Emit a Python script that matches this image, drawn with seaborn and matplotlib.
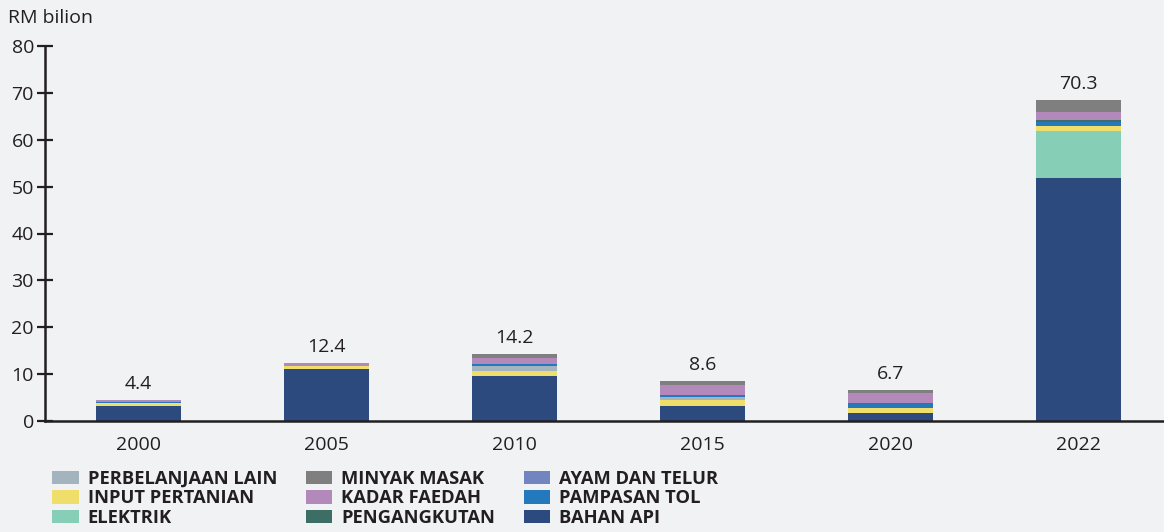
import numpy as np
import pandas as pd
import seaborn as sns
import matplotlib.pyplot as plt
from matplotlib.patches import Patch

sns.set_theme(style="white")
plt.rcParams['font.family'] = ['Open Sans', 'DejaVu Sans']

years = ['2000', '2005', '2010', '2015', '2020', '2022']
totals = [4.4, 12.4, 14.2, 8.6, 6.7, 70.3]

# stacked from bottom to top
bahan_api = [3.2, 11.1, 9.7, 3.3, 1.7, 51.8]
elektrik = [0, 0, 0, 0, 0, 10.0]
input_pertanian = [0.7, 0.6, 1.0, 1.2, 1.0, 1.1]
perbelanjaan_lain = [0, 0, 1.1, 0.6, 0, 0]
pampasan_tol = [0.1, 0, 0.4, 0.4, 1.2, 0.9]
pengangkutan = [0, 0, 0, 0, 0, 0.4]
ayam_dan_telur = [0, 0, 0, 0, 0, 0]
kadar_faedah = [0.4, 0.7, 1.2, 2.1, 2.1, 1.7]
minyak_masak = [0, 0, 0.8, 1.0, 0.7, 2.6]

series = [
    ('BAHAN API', bahan_api, '#2d4a7e'),
    ('ELEKTRIK', elektrik, '#86cfb6'),
    ('INPUT PERTANIAN', input_pertanian, '#f0de6a'),
    ('PERBELANJAAN LAIN', perbelanjaan_lain, '#a3b4bf'),
    ('PAMPASAN TOL', pampasan_tol, '#2478bc'),
    ('PENGANGKUTAN', pengangkutan, '#3d6e66'),
    ('AYAM DAN TELUR', ayam_dan_telur, '#7285c0'),
    ('KADAR FAEDAH', kadar_faedah, '#b389bb'),
    ('MINYAK MASAK', minyak_masak, '#7f7f80'),
]
colors = {name: c for name, _, c in series}

df = pd.DataFrame({name: vals for name, vals, _ in series}, index=years)
cum = df.cumsum(axis=1)

bg = '#f1f2f4'
ink = '#231f20'
fs = 14
fig = plt.figure(figsize=(11.64, 5.32), dpi=100, facecolor=bg)
ax = fig.add_axes([45 / 1164, 1 - 421 / 532, 1 - 45 / 1164, 375 / 532])
ax.set_facecolor(bg)

# draw cumulative bars from the top of the stack down
for name, _, c in reversed(series):
    sns.barplot(x=years, y=cum[name].values, color=c, width=0.452,
                saturation=1, errorbar=None, ax=ax, linewidth=0)

ax.bar_label(ax.containers[0], labels=[f'{t:.1f}' for t in totals],
             padding=5, fontsize=fs, color=ink)

ax.set_ylim(0, 80)
ax.set_xlim(-0.497, 5.455)
ax.set_yticks(range(0, 81, 10))
sns.despine(ax=ax, top=True, right=True)
for s in ['left', 'bottom']:
    ax.spines[s].set_color(ink)
    ax.spines[s].set_linewidth(1.8)
ax.tick_params(axis='y', direction='inout', length=12, width=1.6,
               color=ink, labelsize=fs, labelcolor=ink, pad=2, left=True)
ax.tick_params(axis='x', length=0, labelsize=fs, labelcolor=ink, pad=11)
ax.set_xlabel('')
ax.set_ylabel('')

fig.text(8 / 1164, 1 - 18 / 532, 'RM bilion', fontsize=fs, color=ink,
         va='center', ha='left')

legend_order = ['PERBELANJAAN LAIN', 'INPUT PERTANIAN', 'ELEKTRIK',
                'MINYAK MASAK', 'KADAR FAEDAH', 'PENGANGKUTAN',
                'AYAM DAN TELUR', 'PAMPASAN TOL', 'BAHAN API']
handles = [Patch(facecolor=colors[n], edgecolor='none') for n in legend_order]
leg = fig.legend(handles, legend_order, ncol=3, loc='upper left',
                 bbox_to_anchor=(52 / 1164, 1 - 470 / 532), frameon=False,
                 borderpad=0, borderaxespad=0, handlelength=1.45,
                 handleheight=0.75, handletextpad=0.5, columnspacing=1.55,
                 labelspacing=0.08, prop={'size': 13.2, 'weight': 'bold'})
for t in leg.get_texts():
    t.set_color(ink)

fig.savefig('out.png', dpi=100, facecolor=bg)
